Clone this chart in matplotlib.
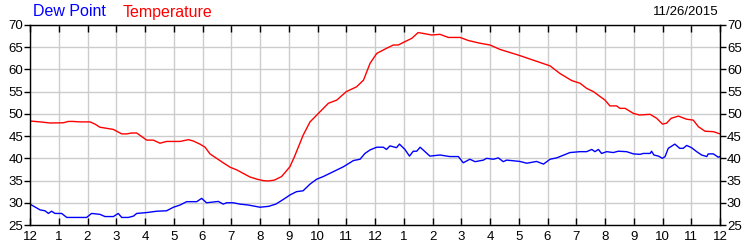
import numpy as np
import matplotlib.pyplot as plt

plt.rcParams['font.family'] = ['Liberation Sans', 'DejaVu Sans']

# hours since midnight (0-24) and readings in deg F
temp_hours = [0, 0.35, 0.7, 1.16, 1.33, 1.5, 1.74, 2.09, 2.26, 2.43, 2.67, 2.9, 3.19, 3.36, 3.54,
              3.71, 4.06, 4.29, 4.52, 4.75, 5.22, 5.51, 5.68, 5.91, 6.09, 6.26, 6.49, 6.72, 6.96,
              7.19, 7.42, 7.65, 7.9, 8.1, 8.28, 8.5, 8.75, 9.04, 9.2, 9.35, 9.5, 9.74, 10.03, 10.38,
              10.67, 11.0, 11.36, 11.6, 11.83, 12.06, 12.4, 12.64, 12.81, 13.04, 13.28, 13.5,
              13.68, 13.97, 14.26, 14.55, 14.96, 15.25, 15.65, 16.0, 16.35, 16.7, 17.0, 17.5,
              18.09, 18.43, 18.84, 19.13, 19.36, 19.6, 19.83, 20.0, 20.17, 20.4, 20.52, 20.7,
              20.99, 21.2, 21.57, 21.8, 22.0, 22.14, 22.3, 22.55, 22.84, 23.07, 23.25, 23.48,
              23.77, 24.0]
temperature = [48.4, 48.2, 47.95, 48.0, 48.3, 48.3, 48.2, 48.2, 47.7, 47.0, 46.75, 46.5, 45.5,
               45.5, 45.7, 45.7, 44.1, 44.1, 43.4, 43.8, 43.8, 44.2, 43.9, 43.2, 42.5, 41.0, 40.0,
               39.0, 38.0, 37.4, 36.6, 35.8, 35.3, 35.0, 34.9, 35.1, 35.9, 38.1, 40.4, 42.8, 45.2,
               48.2, 50.1, 52.4, 53.1, 55.0, 56.1, 57.6, 61.4, 63.6, 64.75, 65.5, 65.5, 66.25,
               67.0, 68.3, 68.1, 67.75, 67.9, 67.2, 67.2, 66.5, 65.9, 65.5, 64.5, 63.8, 63.2,
               62.1, 60.8, 59.1, 57.5, 56.9, 55.75, 55.0, 53.9, 53.1, 51.8, 51.8, 51.25, 51.25,
               50.1, 49.75, 49.9, 49.0, 47.7, 47.9, 49.0, 49.5, 48.8, 48.6, 47.1, 46.1, 46.0, 45.5]

dew_hours = [0, 0.35, 0.52, 0.64, 0.75, 0.87, 1.1, 1.28, 1.97, 2.14, 2.43, 2.61, 2.9, 3.07, 3.19,
             3.42, 3.6, 3.71, 4.06, 4.41, 4.75, 4.99, 5.22, 5.45, 5.8, 5.97, 6.14, 6.55, 6.72,
             6.84, 7.07, 7.3, 7.59, 8.0, 8.3, 8.55, 8.7, 8.87, 9.04, 9.27, 9.5, 9.74, 9.97, 10.2,
             10.55, 10.9, 11.25, 11.48, 11.65, 11.83, 12.06, 12.29, 12.4, 12.52, 12.75, 12.85,
             13.04, 13.2, 13.33, 13.45, 13.57, 13.74, 13.91, 14.26, 14.6, 14.9, 15.07, 15.3,
             15.48, 15.77, 15.88, 16.12, 16.29, 16.35, 16.46, 16.58, 17.04, 17.28, 17.62, 17.86,
             18.09, 18.32, 18.78, 19.13, 19.36, 19.54, 19.65, 19.77, 19.88, 20.06, 20.29, 20.46,
             20.75, 20.99, 21.22, 21.33, 21.57, 21.62, 21.7, 21.86, 22.0, 22.09, 22.2, 22.38,
             22.43, 22.6, 22.72, 22.84, 23.01, 23.19, 23.36, 23.54, 23.59, 23.77, 23.94, 24.0]
dew_point = [29.7, 28.4, 28.2, 27.6, 28.1, 27.6, 27.6, 26.7, 26.7, 27.6, 27.4, 26.9, 26.9, 27.6,
             26.7, 26.7, 27.0, 27.6, 27.8, 28.1, 28.2, 29.0, 29.5, 30.25, 30.25, 31.0, 30.0, 30.3,
             29.7, 30.0, 30.0, 29.7, 29.5, 29.0, 29.2, 29.7, 30.3, 31.0, 31.75, 32.5, 32.7, 34.2,
             35.3, 35.9, 37.0, 38.1, 39.5, 39.8, 41.1, 41.9, 42.5, 42.5, 42.0, 42.8, 42.4, 43.2,
             42.0, 40.5, 41.6, 41.6, 42.5, 41.5, 40.5, 40.75, 40.4, 40.4, 39.0, 39.8, 39.25, 39.6,
             40.0, 39.8, 40.1, 39.8, 39.25, 39.6, 39.3, 38.9, 39.3, 38.7, 39.8, 40.1, 41.3, 41.5,
             41.5, 42.0, 41.5, 42.0, 41.1, 41.5, 41.3, 41.6, 41.5, 41.0, 40.9, 41.1, 41.1, 41.6,
             40.75, 40.5, 40.0, 40.4, 42.25, 43.0, 43.2, 42.25, 42.25, 42.9, 42.4, 41.5, 40.75,
             40.4, 41.0, 41.0, 40.25, 40.4]

hour_labels = ['12', '1', '2', '3', '4', '5', '6', '7', '8', '9', '10', '11',
               '12', '1', '2', '3', '4', '5', '6', '7', '8', '9', '10', '11', '12']
y_ticks = [25, 30, 35, 40, 45, 50, 55, 60, 65, 70]

fig = plt.figure(figsize=(7.5, 2.5), dpi=100)
ax = fig.add_axes([0.04, 0.1, 0.92, 0.8])

ax.plot(temp_hours, temperature, color='#ff0000', lw=1)
ax.plot(dew_hours, dew_point, color='#0000ff', lw=1)

ax.set_xlim(0, 24)
ax.set_ylim(25, 70)
ax.set_xticks(range(25))
ax.set_xticklabels(hour_labels)
ax.set_yticks(y_ticks)
ax.grid(True, color='#cccccc', lw=1)
ax.set_axisbelow(True)

ax.tick_params(axis='x', direction='in', top=True, bottom=True, length=5, width=1,
               labelsize=9.5, pad=4)
ax.tick_params(axis='y', direction='out', left=True, right=True, labelleft=True,
               labelright=True, length=4, width=1, labelsize=9.5, pad=1)
for s in ax.spines.values():
    s.set_color('black')
    s.set_linewidth(1)

fig.text(0.044, 0.952, 'Dew Point', color='#0000ff', fontsize=11.5, va='center')
fig.text(0.164, 0.952, 'Temperature', color='#ff0000', fontsize=11.5, va='center')
fig.text(0.958, 0.952, '11/26/2015', color='black', fontsize=9.5, va='center', ha='right')

fig.savefig('out.png', dpi=100)
